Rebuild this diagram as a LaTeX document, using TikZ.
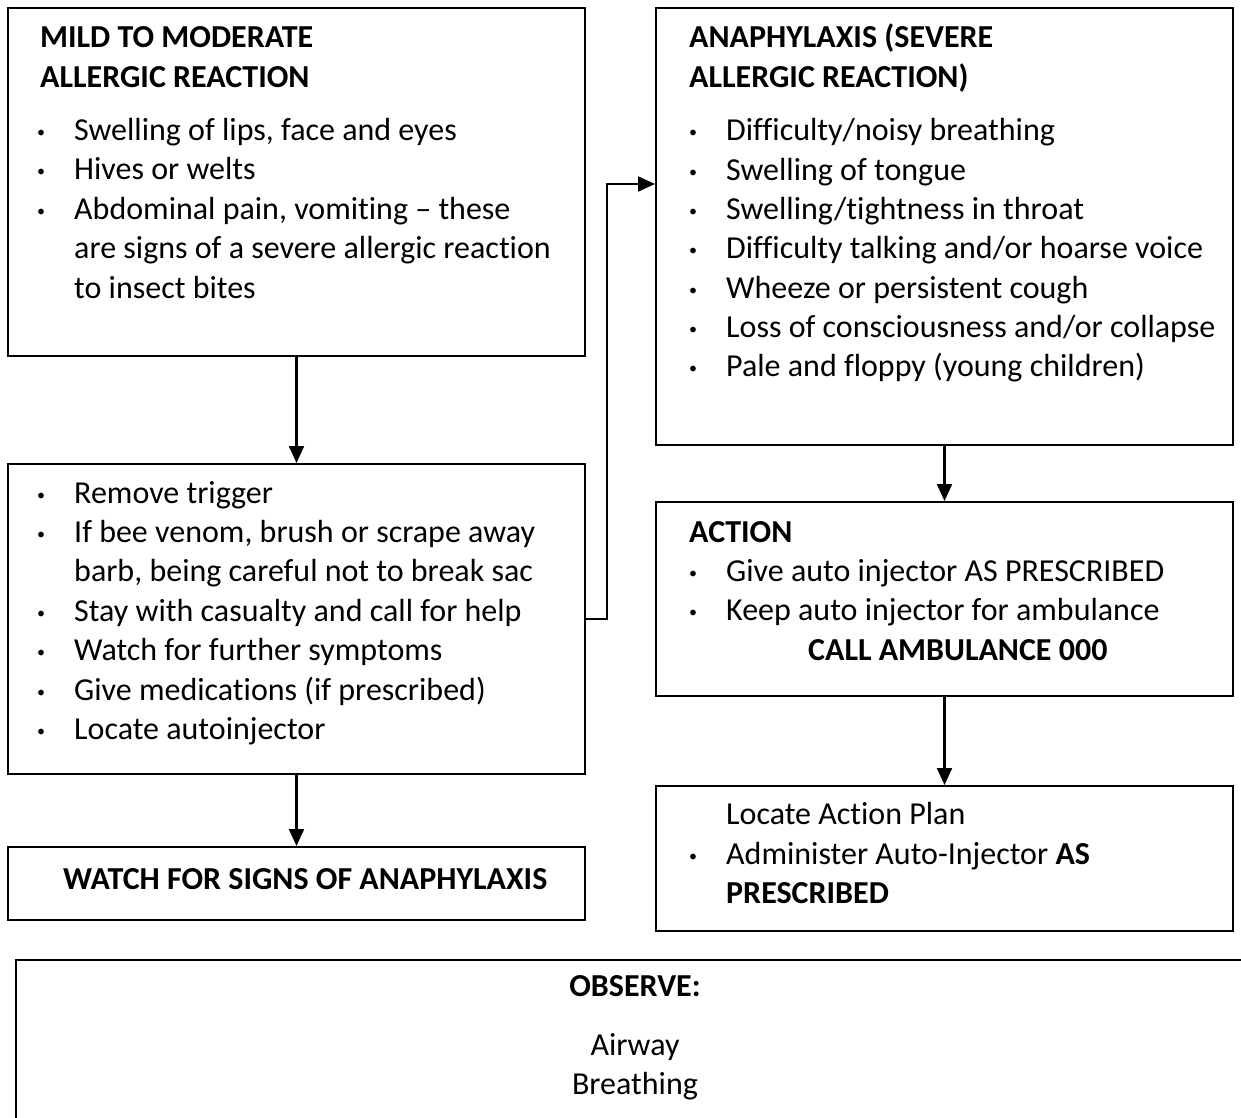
\documentclass[tikz,border=0pt]{standalone}
\usepackage{fontspec}
\setmainfont{Carlito}[Ligatures={NoCommon}]
\usetikzlibrary{arrows.meta}
\newcommand{\bul}{\makebox[37pt][l]{\raisebox{3pt}{\scalebox{0.5}{•}}}}
\begin{document}
\begin{tikzpicture}[x=1pt,y=-1pt,
  box/.style={draw=black, line width=2pt, rectangle, inner sep=0pt, anchor=north west},
  txt/.style={anchor=base west, inner sep=0pt, font=\fontsize{32}{39}\selectfont},
  btxt/.style={txt, font=\fontsize{32}{39}\selectfont\bfseries},
  arr/.style={line width=2.2pt, -{Triangle[length=17pt,width=15pt]}}]
\useasboundingbox (0,0) rectangle (1241,1117);
% boxes
\node[box, minimum width=577pt, minimum height=348pt] (mild) at (7,7) {};
\node[box, minimum width=577pt, minimum height=310pt] (treat) at (7,463) {};
\node[box, minimum width=577pt, minimum height=73pt] (watch) at (7,846) {};
\node[box, minimum width=577pt, minimum height=437pt] (ana) at (655,7) {};
\node[box, minimum width=577pt, minimum height=194pt] (action) at (655,501) {};
\node[box, minimum width=577pt, minimum height=145pt] (locate) at (655,785) {};
\node[box, minimum width=1260pt, minimum height=200pt] (obs) at (15,959) {};
% mild text
\node[btxt] (m0) at (40,47) {MILD TO MODERATE};
\node[btxt] (m00) at (40,87) {ALLERGIC REACTION};
\node[txt] (m1) at (37,140) {\bul Swelling of lips, face and eyes};
\node[txt] (m2) at (37,179) {\bul Hives or welts};
\node[txt] (m3) at (37,219) {\bul Abdominal pain, vomiting – these};
\node[txt] (m4) at (74,258) {are signs of a severe allergic reaction};
\node[txt] (m5) at (74,298) {to insect bites};
% treatment text
\node[txt] (t1) at (37,503) {\bul Remove trigger};
\node[txt] (t2) at (37,542) {\bul If bee venom, brush or scrape away};
\node[txt] (t3) at (74,581) {barb, being careful not to break sac};
\node[txt] (t4) at (37,621) {\bul Stay with casualty and call for help};
\node[txt] (t5) at (37,660) {\bul Watch for further symptoms};
\node[txt] (t6) at (37,700) {\bul Give medications (if prescribed)};
\node[txt] (t7) at (37,739) {\bul Locate autoinjector};
% watch
\node[btxt] (w1) at (63,889) {WATCH FOR SIGNS OF ANAPHYLAXIS};
% anaphylaxis
\node[btxt] (a0) at (689,47) {ANAPHYLAXIS (SEVERE};
\node[btxt] (a00) at (689,87) {ALLERGIC REACTION)};
\node[txt] (a1) at (689,140) {\bul Difficulty/noisy breathing};
\node[txt] (a2) at (689,180) {\bul Swelling of tongue};
\node[txt] (a3) at (689,219) {\bul Swelling/tightness in throat};
\node[txt] (a4) at (689,258) {\bul Difficulty talking and/or hoarse voice};
\node[txt] (a5) at (689,298) {\bul Wheeze or persistent cough};
\node[txt] (a6) at (689,337) {\bul Loss of consciousness and/or collapse};
\node[txt] (a7) at (689,376) {\bul Pale and floppy (young children)};
% action
\node[btxt] (c0) at (689,542) {ACTION};
\node[txt] (c1) at (689,581) {\bul Give auto injector AS PRESCRIBED};
\node[txt] (c2) at (689,620) {\bul Keep auto injector for ambulance};
\node[btxt] (c3) at (808,660) {CALL AMBULANCE 000};
% locate
\node[txt] (l1) at (726,824) {Locate Action Plan};
\node[txt] (l2) at (689,864) {\bul Administer Auto-Injector \textbf{AS}};
\node[btxt] (l3) at (726,903) {PRESCRIBED};
% observe
\node[btxt, anchor=base] (o1) at (635,996) {OBSERVE:};
\node[txt, anchor=base] (o2) at (635,1055) {Airway};
\node[txt, anchor=base] (o3) at (635,1094) {Breathing};
% connectors
\draw[arr] (mild.south) -- (treat.north);
\draw[arr] (treat.south) -- (watch.north);
\draw[arr] (ana.south) -- (action.north);
\draw[arr] (action.south) -- (locate.north);
\coordinate (bend) at (607,184);
\draw[arr] (treat.east) -| (bend) -- (ana.west |- bend);
\end{tikzpicture}
\end{document}
